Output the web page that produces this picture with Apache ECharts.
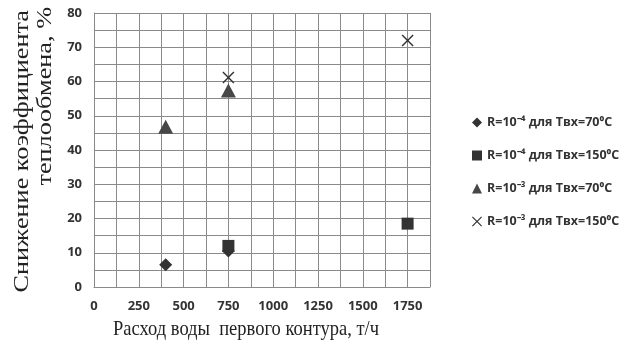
<!DOCTYPE html>
<html><head><meta charset="utf-8">
<script src="https://cdn.jsdelivr.net/npm/echarts@6/dist/echarts.min.js"></script>
<style>html,body{margin:0;padding:0;background:#fff}#c{width:625px;height:341px}</style>
</head><body><div id="c"></div>
<script>
var seriesNames = ['R=10⁻⁴ для Твх=70⁰C', 'R=10⁻⁴ для Твх=150⁰C', 'R=10⁻³ для Твх=70⁰C', 'R=10⁻³ для Твх=150⁰C'];
var s1 = [[400, 6.5], [750, 10.5]];
var s2 = [[750, 12], [1750, 18.5]];
var s3 = [[400, 46.8], [750, 57.4]];
var s4 = [[750, 61.2], [1750, 72]];
var xTitle = 'Расход воды  первого контура, т/ч';
var yTitle1 = 'Снижение коэффициента';
var yTitle2 = 'теплообмена, %';

var crossPath = 'path://M1,0 L6,5 L11,0 L12,1 L7,6 L12,11 L11,12 L6,7 L1,12 L0,11 L5,6 L0,1 Z';
var gridColor = '#8a8a8a';
var tickFont = {fontFamily: 'Open Sans', fontWeight: 'bold', fontSize: 13, color: '#333'};

var chart = echarts.init(document.getElementById('c'), null, {renderer: 'canvas'});
chart.setOption({
  animation: false,
  backgroundColor: '#fff',
  grid: {left: 94, top: 13, width: 336, height: 274, containLabel: false},
  xAxis: {
    type: 'value', min: 0, max: 1875, interval: 125,
    axisLine: {show: true, lineStyle: {color: gridColor, width: 1}},
    axisTick: {show: false},
    splitLine: {show: true, lineStyle: {color: gridColor, width: 1}},
    axisLabel: Object.assign({margin: 13, formatter: function (v) { return v % 250 === 0 && v <= 1750 ? String(v) : ''; }}, tickFont)
  },
  yAxis: {
    type: 'value', min: 0, max: 80, interval: 5,
    axisLine: {show: true, lineStyle: {color: gridColor, width: 1}},
    axisTick: {show: false},
    splitLine: {show: true, lineStyle: {color: gridColor, width: 1}},
    axisLabel: Object.assign({margin: 12, formatter: function (v) { return v % 10 === 0 ? String(v) : ''; }}, tickFont)
  },
  legend: {
    orient: 'vertical', left: 467, top: 111, itemGap: 20,
    itemWidth: 10, itemHeight: 10,
    textStyle: {fontFamily: 'Open Sans', fontWeight: 'bold', fontSize: 12.5, lineHeight: 13, color: '#333'},
    data: seriesNames
  },
  series: [
    {name: seriesNames[0], type: 'scatter', data: s1, symbol: 'diamond', symbolSize: [13, 13], itemStyle: {color: '#333', opacity: 1}},
    {name: seriesNames[1], type: 'scatter', data: s2, symbol: 'rect', symbolSize: 12, itemStyle: {color: '#333', opacity: 1}},
    {name: seriesNames[2], type: 'scatter', data: s3, symbol: 'triangle', symbolSize: [15, 14], itemStyle: {color: '#474747', opacity: 1}},
    {name: seriesNames[3], type: 'scatter', data: s4, symbol: crossPath, symbolSize: 12, itemStyle: {color: '#333', opacity: 1}}
  ],
  graphic: [
    {type: 'text', x: 246, y: 329, scaleY: 1.15, style: {text: xTitle, font: '18.5px "Liberation Serif"', fill: '#222', align: 'center', verticalAlign: 'middle'}},
    {type: 'text', x: 22, y: 10, rotation: Math.PI / 2, scaleX: 1.25, style: {text: yTitle1, font: '21px "Liberation Serif"', fill: '#222', align: 'right', verticalAlign: 'middle'}},
    {type: 'text', x: 45, y: 7, rotation: Math.PI / 2, scaleX: 1.25, style: {text: yTitle2, font: '21px "Liberation Serif"', fill: '#222', align: 'right', verticalAlign: 'middle'}}
  ]
});
</script></body></html>
